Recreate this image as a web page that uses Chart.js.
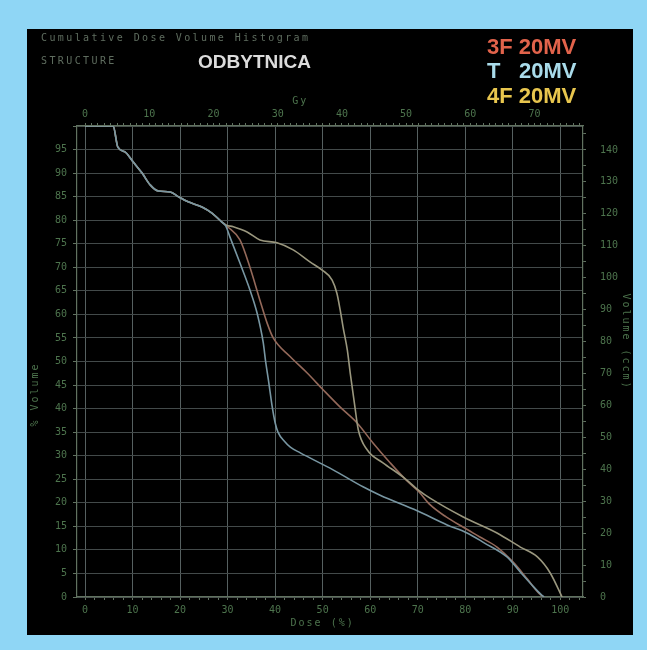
<!DOCTYPE html>
<html>
<head>
<meta charset="utf-8">
<title>Cumulative Dose Volume Histogram - ODBYTNICA</title>
<script src="https://cdn.jsdelivr.net/npm/chart.js@4/dist/chart.umd.min.js"></script>
<style>
  html, body { margin: 0; padding: 0; width: 647px; height: 650px; overflow: hidden; background: #8fd6f5; }
  #panel { position: absolute; left: 27px; top: 29px; width: 606px; height: 606px; background: #000; }
  #wrap { position: absolute; left: 0; top: 0; width: 647px; height: 650px; }
  .t { position: absolute; white-space: pre; line-height: 1; }
  .dim { font: 10px "DejaVu Sans Mono", monospace; letter-spacing: 2.4px; color: #5f6d5f; }
  .big { font: bold 22px "Liberation Sans", Arial, sans-serif; }
</style>
</head>
<body>
<div id="panel"></div>
<div id="wrap"><canvas id="dvh" width="647" height="650"></canvas></div>

<div class="t dim" style="left:41px; top:32px;">Cumulative Dose Volume Histogram</div>
<div class="t dim" style="left:41px; top:55px;">STRUCTURE</div>
<div class="t" style="left:198px; top:51px; font:bold 19px 'Liberation Sans', Arial, sans-serif; color:#dcdcdc;">ODBYTNICA</div>

<div class="t big" style="left:487px; top:34px; color:#e2634b;">3F 20MV</div>
<div class="t big" style="left:487px; top:58px; color:#a9dbea;">T</div>
<div class="t big" style="left:519px; top:58px; color:#a9dbea;">20MV</div>
<div class="t big" style="left:487px; top:83px; color:#e8c64e;">4F 20MV</div>

<script>
// Dose axis: percent of prescribed dose; volume axis: percent of structure volume
const PRESCRIBED_GY = 74;      // 100 % dose in Gy (top axis)
const STRUCTURE_CC = 147.5;    // 100 % volume in cm3 (right axis)
const DOSE_MIN = -1.7;
const DOSE_MAX = 104.8;

const doseTickValues   = [0, 10, 20, 30, 40, 50, 60, 70, 80, 90, 100];
const volumeTickValues = [0, 5, 10, 15, 20, 25, 30, 35, 40, 45, 50, 55, 60, 65, 70, 75, 80, 85, 90, 95, 100];
const gyTickValues     = [0, 10, 20, 30, 40, 50, 60, 70];
const ccTickValues     = [0, 10, 20, 30, 40, 50, 60, 70, 80, 90, 100, 110, 120, 130, 140];

// 3F 20MV plan
const dose3F = [0, 5.9, 6.9, 8.4, 10.1, 12.0, 13.7, 15.4, 17.9, 19.6, 21.7, 24.6, 26.7, 28.8, 30.0,
                32.6, 34.7, 36.8, 38.3, 39.6, 43.2, 46.7, 50.1, 53.7, 57.3, 60.6, 64.2, 67.6, 70.3,
                72.6, 76.0, 79.6, 83.0, 86.7, 90.1, 93.1, 95.5, 96.5];
const vol3F  = [100, 100, 95.5, 94.5, 92.4, 90.0, 87.5, 86.2, 86.0, 85.0, 83.9, 82.8, 81.5, 79.6, 78.6,
                75.8, 70.0, 63.0, 58.2, 55.0, 51.0, 47.6, 44.0, 40.3, 36.9, 32.7, 28.5, 24.8, 22.3,
                19.6, 17.0, 14.8, 12.8, 10.6, 7.4, 3.8, 0.8, 0];

// T 20MV plan
const doseT = [0, 5.9, 6.9, 8.4, 10.1, 12.0, 13.7, 15.4, 17.9, 19.6, 21.7, 24.6, 26.7, 28.8, 29.6,
               30.5, 32.6, 34.7, 36.2, 37.5, 38.0, 38.6, 39.4, 40.0, 40.6, 42.0, 43.2, 45.3, 52.2,
               58.5, 62.1, 69.9, 76.2, 80.4, 84.0, 88.8, 91.6, 94.0, 96.0, 96.6];
const volT  = [100, 100, 95.5, 94.5, 92.4, 90.0, 87.5, 86.2, 86.0, 85.0, 83.9, 82.8, 81.5, 79.6, 78.8,
               76.4, 70.9, 65.2, 60.3, 54.0, 50.0, 46.0, 40.3, 37.0, 35.0, 33.0, 31.8, 30.6, 27.0,
               23.4, 21.6, 18.3, 15.3, 13.6, 11.5, 8.5, 5.3, 2.6, 0.5, 0];

// 4F 20MV plan
const dose4F = [0, 5.9, 6.9, 8.4, 10.1, 12.0, 13.7, 15.4, 17.9, 19.6, 21.7, 24.6, 26.7, 28.8, 29.6,
                31.2, 34.1, 36.8, 40.4, 43.8, 47.4, 49.9, 52.0, 53.0, 53.7, 54.3, 55.2, 55.8, 56.8,
                57.5, 59.4, 62.7, 66.9, 70.3, 72.6, 79.6, 86.7, 91.6, 95.2, 97.9, 100.4];
const vol4F  = [100, 100, 95.5, 94.5, 92.4, 90.0, 87.5, 86.2, 86.0, 85.0, 83.9, 82.8, 81.5, 79.6, 79.0,
                78.6, 77.5, 75.8, 75.2, 73.7, 71.1, 69.4, 67.3, 64.5, 60.9, 57.3, 52.4, 47.6, 40.3,
                35.5, 31.2, 28.5, 25.5, 22.6, 21.0, 17.0, 13.6, 10.6, 8.5, 5.1, 0];

const toPoints = (xs, ys) => xs.map((x, i) => ({ x: x, y: ys[i] }));
const range = (a, b, step) => { const out = []; for (let v = a; v <= b + 1e-9; v += step) out.push(+v.toFixed(4)); return out; };

const FRAME = '#617260';
const TICK_TEXT = '#4d744d';
const H_GRID = '#434a4a';
const V_GRID = '#566060';
const tickFont = { family: 'DejaVu Sans Mono', size: 10 };

// Axis titles positioned with the scales' own value->pixel mapping
const axisTitles = {
  id: 'axisTitles',
  afterDraw(chart) {
    const { ctx, scales } = chart;
    ctx.save();
    ctx.fillStyle = TICK_TEXT;
    ctx.font = '10px "DejaVu Sans Mono"';
    ctx.textAlign = 'center';
    ctx.textBaseline = 'middle';
    if ('letterSpacing' in ctx) ctx.letterSpacing = '2px';
    ctx.fillText('Dose (%)', scales.x.getPixelForValue(50), 623);
    ctx.fillText('Gy', scales.x2.getPixelForValue(33.5), 101);
    ctx.save();
    ctx.translate(35, scales.y.getPixelForValue(43));
    ctx.rotate(-Math.PI / 2);
    ctx.fillText('% Volume', 0, 0);
    ctx.restore();
    ctx.save();
    ctx.translate(626, scales.y2.getPixelForValue(80));
    ctx.rotate(Math.PI / 2);
    ctx.fillText('Volume (ccm)', 0, 0);
    ctx.restore();
    ctx.restore();
  }
};

new Chart(document.getElementById('dvh'), {
  type: 'scatter',
  data: {
    datasets: [
      { label: 'T 20MV',  data: toPoints(doseT, volT),   borderColor: '#7896a2' },
      { label: '4F 20MV', data: toPoints(dose4F, vol4F), borderColor: '#9a977e' },
      { label: '3F 20MV', data: toPoints(dose3F, vol3F), borderColor: '#94695a' }
    ].map(d => Object.assign(d, {
      showLine: true, pointRadius: 0, borderWidth: 1.6,
      cubicInterpolationMode: 'monotone', fill: false
    }))
  },
  options: {
    responsive: false,
    animation: false,
    layout: { padding: { left: 27, right: 14, top: 92, bottom: 14 } },
    plugins: { legend: { display: false }, tooltip: { enabled: false }, title: { display: false } },
    scales: {
      x: {
        type: 'linear', position: 'bottom', min: DOSE_MIN, max: DOSE_MAX,
        afterBuildTicks: a => { a.ticks = range(0, 104, 2).map(v => ({ value: v })); },
        afterFit: a => { a.height = 39; },
        ticks: {
          autoSkip: false, maxRotation: 0, color: TICK_TEXT, font: tickFont, padding: 4,
          callback: v => (doseTickValues.includes(v) ? String(v) : '')
        },
        grid: {
          color: c => (c.tick && doseTickValues.includes(c.tick.value) ? V_GRID : 'rgba(0,0,0,0)'),
          tickColor: FRAME, tickLength: 3
        },
        border: { display: true, color: FRAME, width: 1.2 }
      },
      x2: {
        type: 'linear', position: 'top',
        min: DOSE_MIN * PRESCRIBED_GY / 100, max: DOSE_MAX * PRESCRIBED_GY / 100,
        afterBuildTicks: a => { a.ticks = range(0, 77, 1).map(v => ({ value: v })); },
        afterFit: a => { a.height = 34; },
        ticks: {
          autoSkip: false, maxRotation: 0, color: TICK_TEXT, font: tickFont, padding: 3,
          callback: v => (gyTickValues.includes(v) ? String(v) : '')
        },
        grid: { drawOnChartArea: false, tickColor: FRAME, tickLength: 3 },
        border: { display: true, color: FRAME, width: 1.2 }
      },
      y: {
        type: 'linear', position: 'left', min: 0, max: 100,
        afterBuildTicks: a => { a.ticks = volumeTickValues.map(v => ({ value: v })); },
        afterFit: a => { a.width = 50; },
        ticks: {
          autoSkip: false, color: TICK_TEXT, font: tickFont, padding: 6,
          callback: v => (v < 100 ? String(v) : '')
        },
        grid: { color: H_GRID, tickColor: FRAME, tickLength: 4 },
        border: { display: true, color: FRAME, width: 1.2 }
      },
      y2: {
        type: 'linear', position: 'right', min: 0, max: STRUCTURE_CC,
        afterBuildTicks: a => { a.ticks = range(0, 145, 5).map(v => ({ value: v })); },
        afterFit: a => { a.width = 50; },
        ticks: {
          autoSkip: false, color: TICK_TEXT, font: tickFont, padding: 14,
          callback: v => (ccTickValues.includes(v) ? String(v) : '')
        },
        grid: { drawOnChartArea: false, tickColor: FRAME, tickLength: 3 },
        border: { display: true, color: FRAME, width: 1.2 }
      }
    }
  },
  plugins: [axisTitles]
});
</script>
</body>
</html>
